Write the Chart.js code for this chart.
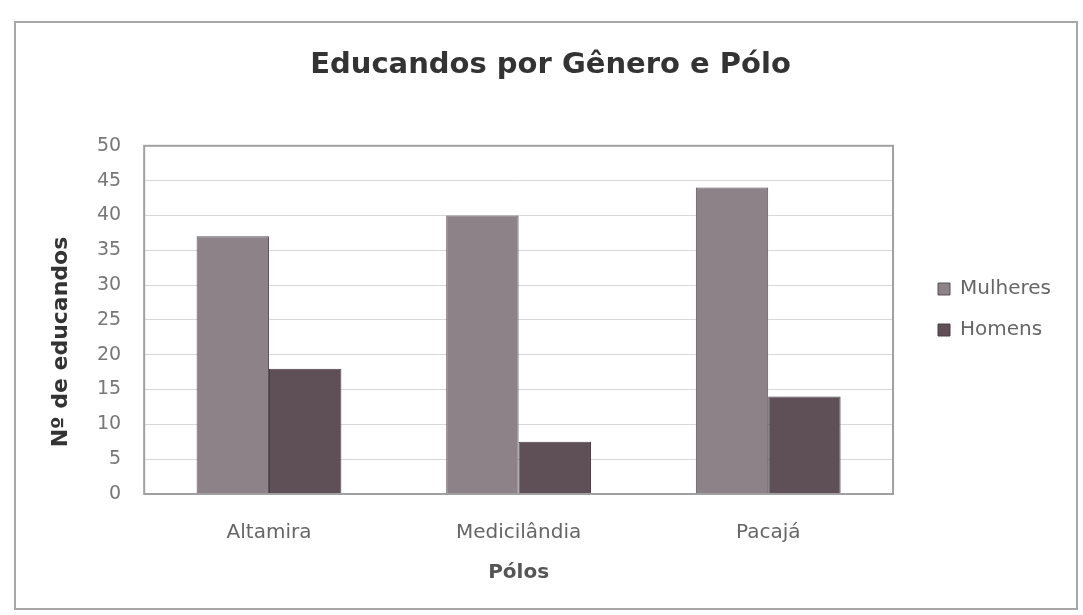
<!DOCTYPE html>
<html>
<head>
<meta charset="utf-8">
<script src="https://cdn.jsdelivr.net/npm/chart.js@4.4.0/dist/chart.umd.min.js"></script>
<style>
html,body{margin:0;padding:0;background:#fff;}
#wrap{width:1083px;height:615px;position:relative;}
</style>
</head>
<body>
<div id="wrap"><canvas id="c" width="1083" height="615"></canvas></div>
<script>
const categories = ["Altamira", "Medicilândia", "Pacajá"];
const mulheres = [37, 40, 44];
const homens = [18, 7.5, 14];
const yTicks = [0, 5, 10, 15, 20, 25, 30, 35, 40, 45, 50];
const yTitle = 'Nº de educandos';

const FONT = 'DejaVu Sans';

const frame = {
  id: 'frame',
  afterLayout(chart) {
    const L = chart.legend;
    if (L) { L.left += 24; L.right += 24; L.top -= 10; L.bottom -= 10; }
    const T = chart.titleBlock;
    if (T) { T.left -= 5; T.right -= 5; }
  },
  beforeDraw(chart) {
    const ctx = chart.ctx;
    ctx.save();
    ctx.fillStyle = '#fff';
    ctx.fillRect(0, 0, chart.width, chart.height);
    ctx.strokeStyle = '#a8a8a8';
    ctx.lineWidth = 2;
    ctx.strokeRect(15, 22, 1062, 587);
    ctx.restore();
  },
  afterDatasetsDraw(chart) {
    const a = chart.chartArea;
    const ctx = chart.ctx;
    ctx.save();
    ctx.strokeStyle = '#a0a0a0';
    ctx.lineWidth = 2;
    ctx.strokeRect(a.left, a.top, a.right - a.left, a.bottom - a.top);
    ctx.restore();
  },
  afterDraw(chart) {
    const ctx = chart.ctx;
    ctx.save();
    ctx.translate(61, 342);
    ctx.rotate(-Math.PI / 2);
    ctx.font = 'bold 22px "' + FONT + '"';
    ctx.fillStyle = '#333';
    ctx.textAlign = 'center';
    ctx.textBaseline = 'middle';
    ctx.fillText(yTitle, 0, 0);
    ctx.restore();
  }
};

new Chart(document.getElementById('c'), {
  type: 'bar',
  data: {
    labels: categories,
    datasets: [
      { label: 'Mulheres', data: mulheres, backgroundColor: '#8c8288', borderColor: '#5a5058', borderWidth: 1, barPercentage: 1, categoryPercentage: 0.58 },
      { label: 'Homens', data: homens, backgroundColor: '#5f5058', borderColor: '#4a3e46', borderWidth: 1, barPercentage: 1, categoryPercentage: 0.58 }
    ]
  },
  options: {
    responsive: false,
    animation: false,
    layout: { padding: { left: 74, right: 46, top: 48, bottom: 24 } },
    plugins: {
      title: {
        display: true,
        text: 'Educandos por Gênero e Pólo',
        font: { family: FONT, size: 29, weight: 'bold' },
        color: '#333',
        padding: { top: 0, bottom: 63 }
      },
      legend: {
        position: 'right',
        labels: {
          font: { family: FONT, size: 20 },
          color: '#666',
          boxWidth: 12,
          boxHeight: 12,
          padding: 21
        }
      },
      tooltip: { enabled: false }
    },
    scales: {
      x: {
        grid: { display: false, drawTicks: false },
        border: { display: false },
        ticks: { font: { family: FONT, size: 20, lineHeight: 1 }, color: '#666', padding: 29 },
        title: { display: true, text: 'Pólos', font: { family: FONT, size: 20, weight: 'bold' }, color: '#555', padding: { top: -11, bottom: 6 } }
      },
      y: {
        min: 0, max: 50,
        afterBuildTicks(axis) { axis.ticks = yTicks.map(v => ({ value: v })); },
        grid: { color: '#d8d8d8', drawTicks: false },
        border: { display: false },
        ticks: { font: { family: FONT, size: 19 }, color: '#777', padding: 23 },
        title: { display: false }
      }
    }
  },
  plugins: [frame]
});
</script>
</body>
</html>
